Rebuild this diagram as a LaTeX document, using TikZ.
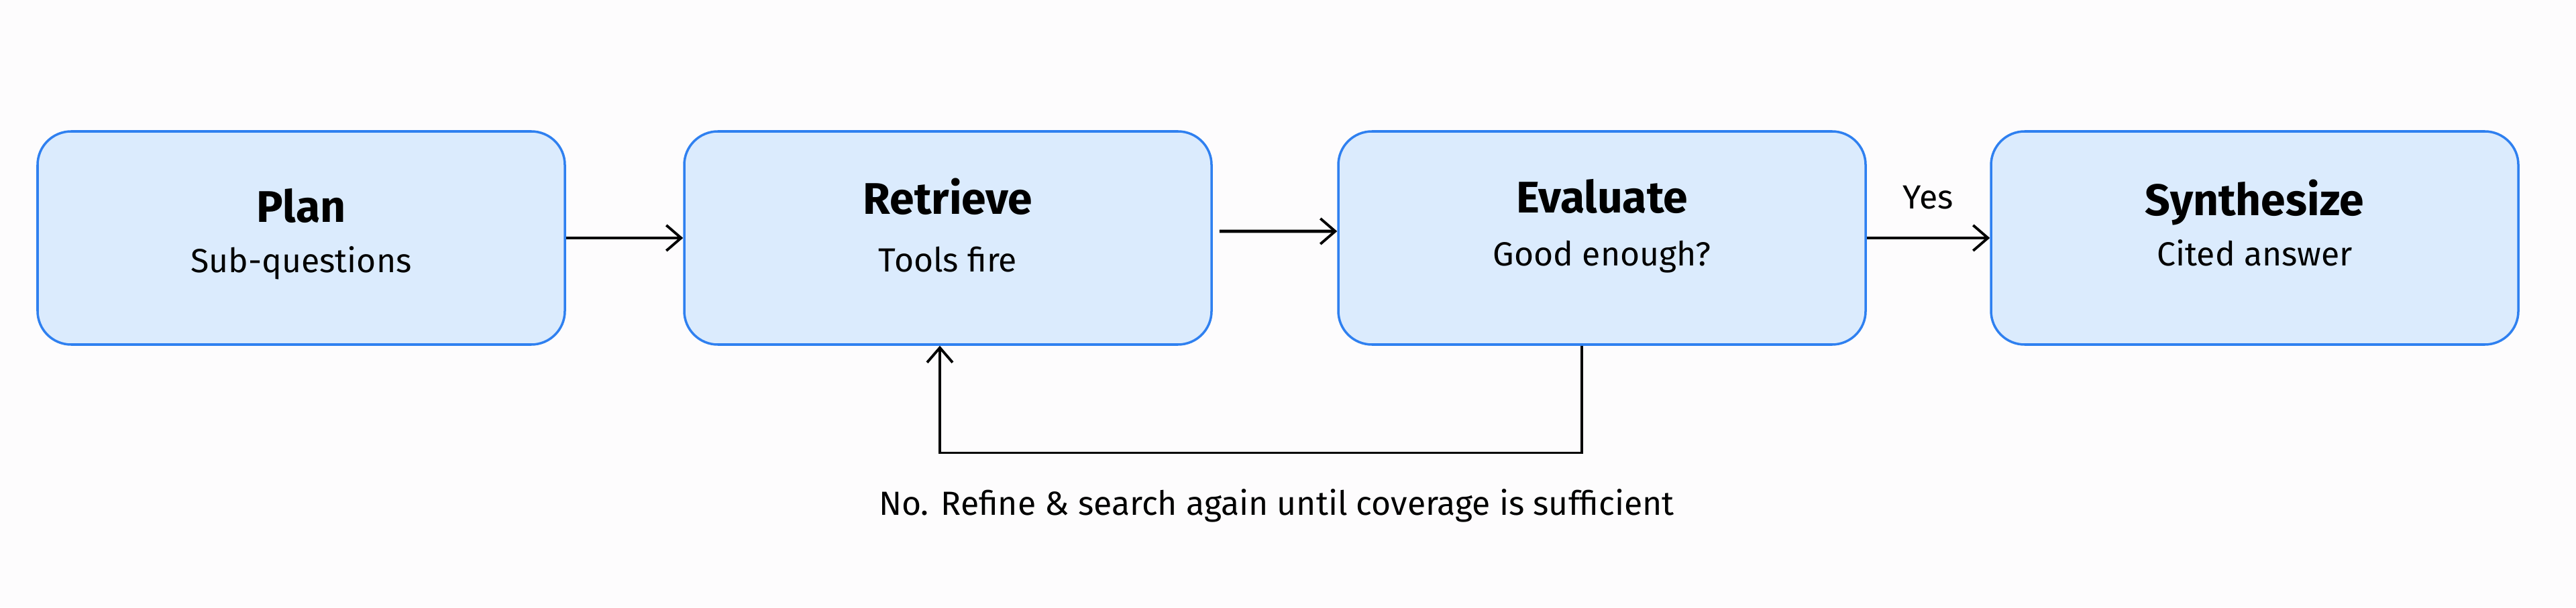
\documentclass[tikz,border=0pt]{standalone}
\usepackage{fontspec}
\setmainfont{Fira Sans}
\usepackage{xcolor}
\usetikzlibrary{arrows.meta}
\definecolor{stepfill}{HTML}{DBEBFD}
\definecolor{stepline}{HTML}{2F80F0}
\definecolor{pagebg}{HTML}{FDFCFD}
\tikzset{
  stepbox/.style={draw=stepline, fill=stepfill, line width=1pt, rounded corners=0.5cm,
    minimum width=7.86cm, minimum height=3.18cm},
  steptitle/.style={anchor=base, font=\fontsize{18.8}{22}\selectfont\bfseries},
  stepsub/.style={anchor=base, font=\fontsize{14.2}{17}\selectfont},
  flow/.style={black, line width=1.3pt, -{Straight Barb[length=0.22cm, width=0.38cm, line width=1.1pt]}},
  back/.style={black, line width=0.9pt, -{Straight Barb[length=0.22cm, width=0.38cm, line width=1.1pt]}}
}

\begin{document}
\begin{tikzpicture}
\fill[pagebg] (0,0) rectangle (38.4,9.06);
\useasboundingbox (0,0) rectangle (38.4,9.06);

% the four steps
\node[stepbox] (plan) at (4.49,5.51) {};
\node[stepbox] (retrieve) at (14.13,5.51) {};
\node[stepbox] (evaluate) at (23.88,5.51) {};
\node[stepbox] (synth) at (33.61,5.51) {};

\node[steptitle] (plantitle) at (4.49,5.74) {Plan};
\node[stepsub] (plansub) at (4.49,4.99) {Sub-questions};
\node[steptitle] (retrievetitle) at (14.13,5.86) {Retrieve};
\node[stepsub] (retrievesub) at (14.13,5.01) {Tools fire};
\node[steptitle] (evaluatetitle) at (23.88,5.88) {Evaluate};
\node[stepsub] (evaluatesub) at (23.88,5.09) {Good enough?};
\node[steptitle] (synthtitle) at (33.61,5.84) {Synthesize};
\node[stepsub] (synthsub) at (33.61,5.09) {Cited answer};

% forward arrows
\draw[flow] (plan.east) -- (retrieve.west);
\draw[flow] ([shift={(0.1,0.1)}]retrieve.east) -- ([yshift=1mm]evaluate.west);
\draw[flow] (evaluate.east) -- (synth.west);
\node[stepsub] (yes) at (28.74,5.94) {Yes};

% loop back
\draw[back] ([xshift=-3mm]evaluate.south) -- ++(0,-1.6) -| ([xshift=-1.2mm]retrieve.south);
\node[stepsub] (again) at (19.03,1.38) {No. Refine \& search again until coverage is sufficient};
\end{tikzpicture}
\end{document}
